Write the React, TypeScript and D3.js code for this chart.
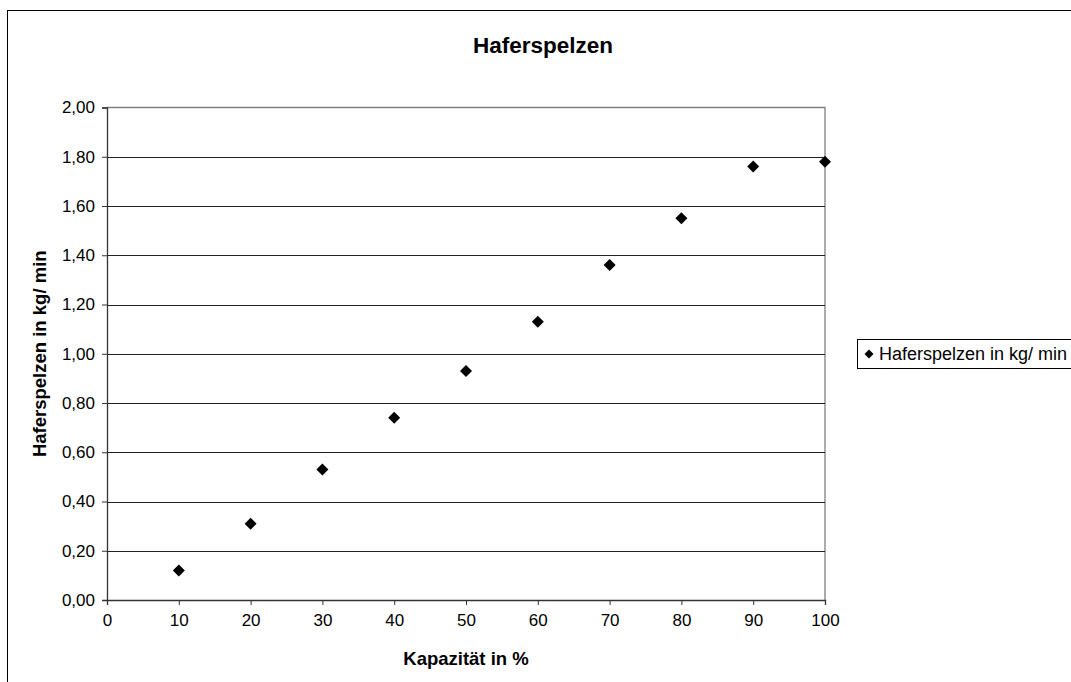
import React, { useEffect, useRef } from "react";
import * as d3 from "d3";

const capacities = [10, 20, 30, 40, 50, 60, 70, 80, 90, 100];
const huskRates = [0.12, 0.31, 0.53, 0.74, 0.93, 1.13, 1.36, 1.55, 1.76, 1.78];
const xTicks = [0, 10, 20, 30, 40, 50, 60, 70, 80, 90, 100];
const yTicks = [0, 0.2, 0.4, 0.6, 0.8, 1.0, 1.2, 1.4, 1.6, 1.8, 2.0];
const chartTitle = "Haferspelzen";
const xTitle = "Kapazität in %";
const yTitle = "Haferspelzen in kg/ min";
const seriesName = "Haferspelzen in kg/ min";

const W = 1071;
const H = 682;
const plot = { left: 107, right: 825, top: 107.5, bottom: 600 };
const FONT = "Liberation Sans, Arial, sans-serif";

export default function App() {
  const ref = useRef<SVGSVGElement>(null);

  useEffect(() => {
    const svg = d3.select(ref.current);
    svg.selectAll("*").remove();

    const x = d3.scaleLinear().domain([0, 100]).range([plot.left, plot.right]);
    const y = d3.scaleLinear().domain([0, 2]).range([plot.bottom, plot.top]);
    const fmt = (v: number) => d3.format(".2f")(v).replace(".", ",");

    svg.append("rect").attr("x", 0).attr("y", 0).attr("width", W).attr("height", H).attr("fill", "#fff");
    // outer chart frame (extends past the window)
    svg.append("rect")
      .attr("x", 7.5).attr("y", 10.5).attr("width", 1100).attr("height", 700)
      .attr("fill", "none").attr("stroke", "#000").attr("stroke-width", 1);

    // title
    svg.append("text").attr("x", 543).attr("y", 53).attr("text-anchor", "middle")
      .attr("font-family", FONT).attr("font-weight", "bold").attr("font-size", 22.5)
      .text(chartTitle);

    // plot border (top/right grey)
    svg.append("path")
      .attr("d", `M${plot.left},${plot.top}H${plot.right}V${plot.bottom}`)
      .attr("fill", "none").attr("stroke", "#808080").attr("stroke-width", 1.3);

    // gridlines
    svg.append("g").selectAll("line").data(yTicks.filter((t) => t > 0 && t < 2)).join("line")
      .attr("x1", plot.left).attr("x2", plot.right)
      .attr("y1", (d) => Math.round(y(d)) + 0.5).attr("y2", (d) => Math.round(y(d)) + 0.5)
      .attr("stroke", "#222").attr("stroke-width", 1);

    // y axis
    const yAxis = svg.append("g").attr("transform", `translate(${plot.left},0)`)
      .call(d3.axisLeft(y).tickValues(yTicks).tickFormat((d) => fmt(d as number)).tickSize(5).tickPadding(7));
    yAxis.select(".domain").attr("stroke", "#333").attr("stroke-width", 1.3);
    yAxis.selectAll(".tick line").attr("stroke", "#333");
    yAxis.selectAll("text").attr("font-family", FONT).attr("font-size", 17).attr("fill", "#000");

    // x axis
    const xAxis = svg.append("g").attr("transform", `translate(0,${plot.bottom})`)
      .call(d3.axisBottom(x).tickValues(xTicks).tickFormat((d) => String(d)).tickSize(5).tickPadding(9));
    xAxis.select(".domain").attr("stroke", "#333").attr("stroke-width", 1.3);
    xAxis.selectAll(".tick line").attr("stroke", "#333");
    xAxis.selectAll("text").attr("font-family", FONT).attr("font-size", 17).attr("fill", "#000");

    // axis titles
    svg.append("text").attr("x", (plot.left + plot.right) / 2).attr("y", 665).attr("text-anchor", "middle")
      .attr("font-family", FONT).attr("font-weight", "bold").attr("font-size", 18.5).text(xTitle);
    svg.append("text")
      .attr("transform", `translate(46,${(plot.top + plot.bottom) / 2}) rotate(-90)`)
      .attr("text-anchor", "middle")
      .attr("font-family", FONT).attr("font-weight", "bold").attr("font-size", 18.5).text(yTitle);

    // points
    const marker = d3.symbol().type(d3.symbolSquare).size(72);
    svg.append("g").selectAll("path").data(capacities.map((c, i) => [c, huskRates[i]]))
      .join("path")
      .attr("d", marker as any)
      .attr("transform", (d) => `translate(${x(d[0])},${y(d[1])}) rotate(45)`)
      .attr("fill", "#000");

    // legend
    svg.append("rect").attr("x", 857.5).attr("y", 339.5).attr("width", 230).attr("height", 29)
      .attr("fill", "#fff").attr("stroke", "#000").attr("stroke-width", 1);
    svg.append("path").attr("d", d3.symbol().type(d3.symbolSquare).size(40)() as string)
      .attr("transform", "translate(869,354) rotate(45)").attr("fill", "#000");
    svg.append("text").attr("x", 879).attr("y", 359.5)
      .attr("font-family", FONT).attr("font-size", 18).text(seriesName);
  }, []);

  return (
    <svg
      ref={ref}
      width={W}
      height={H}
      style={{ position: "absolute", left: 0, top: 0, overflow: "hidden" }}
    />
  );
}
